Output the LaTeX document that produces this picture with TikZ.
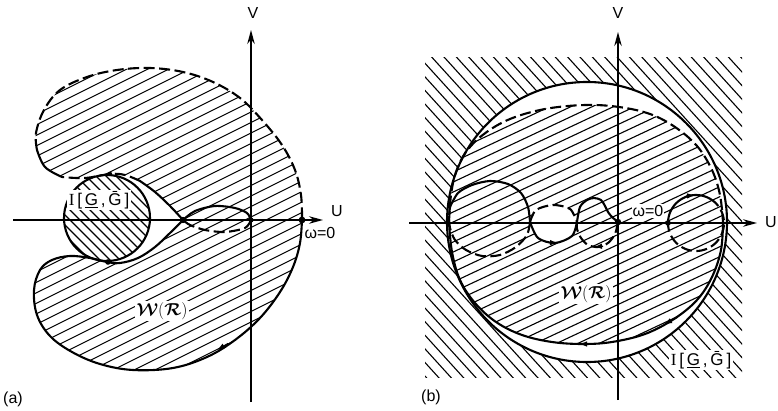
\documentclass[tikz,border=0pt]{standalone}
\usepackage{fontspec}
\setmainfont{Liberation Sans}
\newfontfamily\serifI{Liberation Serif}
\usepackage{bm}
\usetikzlibrary{arrows.meta}
\newcommand{\IGG}{{\serifI I}\,[\,\underline{G}\,,\,\={G}\,]}
\begin{document}
\begin{tikzpicture}[x=1pt,y=-1pt,
  bd/.style={line width=2.1pt, line join=round, line cap=round},
  dsh/.style={line width=2.1pt, line join=round, dash pattern=on 11pt off 4.5pt},
  ax/.style={line width=1.3pt, -{Stealth[length=14pt,width=7.5pt]}},
  hat/.style={line width=1.1pt},
  arr/.style={line width=1.2pt, -{Latex[length=8pt,width=5.5pt]}},
  lbl/.style={inner sep=1pt, font=\fontsize{16}{18}\selectfont},
  big/.style={inner sep=1.5pt, fill=white, font=\fontsize{17}{19}\selectfont},
  cal/.style={inner sep=1.5pt, fill=white, font=\fontsize{19}{21}\selectfont},
]
\useasboundingbox (0,0) rectangle (778,411);

%%%%%%%%%%%%%%%% panel (a)
\begin{scope}
 \clip plot[smooth,tension=0.6] coordinates {(183,220) (170,206) (155,192) (140,181) (125,175) (110,174) (85,178) (62,177) (45,167) (37,150) (36,133) (44,110) (60,90) (87,77) (117,70) (150,68) (183,72) (213,82) (240,98) (262,120) (282,145) (295,170) (301,195) (302,219) (300,243) (293,267) (280,292) (260,318) (235,340) (207,357) (173,368) (133,370) (100,364) (72,352) (50,336) (37,315) (34,290) (40,270) (52,260) (70,256) (90,258) (107,262) (120,263) (138,258) (155,247) (170,233) (183,220)} -- cycle;
 \foreach \c in {80,90.5,...,545} \draw[hat] (0,\c) -- (420,\c-210);
\end{scope}
\begin{scope}
 \clip (107,218) circle[radius=43];
 \foreach \c in {40,50,...,190} \draw[hat] (0,\c) -- (300,\c+300);
\end{scope}
\draw[bd] (107,218) circle[radius=43];

\draw[bd] plot[smooth,tension=0.6] coordinates {(183,220) (170,206) (155,192) (140,181)};
\draw[dsh] plot[smooth,tension=0.6] coordinates {(140,181) (125,175) (110,174) (85,178) (62,177)};
\draw[bd] plot[smooth,tension=0.6] coordinates {(62,177) (45,167) (37,150)};
\draw[dsh] plot[smooth,tension=0.6] coordinates {(37,150) (36,133) (44,110) (60,90) (87,77) (117,70) (150,68) (183,72) (213,82) (240,98) (262,120) (282,145) (295,170) (301,195) (302,219)};
\draw[bd] plot[smooth,tension=0.6] coordinates {(302,219) (300,243) (293,267) (280,292) (260,318) (235,340) (207,357) (173,368) (133,370) (100,364) (72,352) (50,336) (37,315) (34,290) (40,270) (52,260) (70,256) (90,258) (107,262) (120,263) (138,258) (155,247) (170,233) (183,220)};

\draw[bd] plot[smooth] coordinates {(183,220) (195,211) (215,206) (235,208) (247,213) (251,220)};
\draw[dsh] plot[smooth] coordinates {(251,220) (245,228) (225,232) (205,230) (190,225) (183,220)};

\draw[ax] (251,402) -- (251,30);
\draw[ax] (13,220) -- (323,220);

\fill (302,220) circle[radius=3.4];
\fill (183,220) circle[radius=3.2];
\fill (251,220) circle[radius=2.6];
\fill (108,262) circle[radius=2.8];
\fill (110,174) circle[radius=2.2];
\draw[arr] (228,343.5) -- (217,350);

\node[lbl] (Va) at (253,13) {V};
\node[lbl] (Ua) at (337,211) {U};
\node[lbl] (wa) at (320,233) {ω=0};
\node[big] (Ia) at (99,200) {\IGG};
\node[cal] (Wa) at (162,311) {$\bm{\mathcal{W}}(\bm{\mathcal{R}})$};
\node[lbl] (pa) at (13,399) {(a)};

%%%%%%%%%%%%%%%% panel (b)
\begin{scope}
 \clip (425,58) rectangle (742,377);
 \foreach \c in {-785,-771.4,...,-70} \draw[hat] (400,\c+440) -- (760,\c+836);
\end{scope}
\fill[white] (587,222) circle[radius=140];
\draw[bd] (587,222) circle[radius=140];

\begin{scope}
 \clip plot[smooth cycle,tension=0.6] coordinates {(449,222) (451,195) (456,172) (466,152) (484,134) (510,119) (545,109) (585,105) (619,107) (650,114) (675,127) (697,146) (712,170) (720,195) (723,222) (721,250) (712,277) (697,300) (674,319) (645,334) (612,342) (583,344) (552,342) (522,335) (496,322) (475,303) (460,280) (452,252)};
 \foreach \c in {305,315,...,705} \draw[hat] (400,\c-188) -- (760,\c-357.2);
\end{scope}
\fill[white] plot[smooth cycle] coordinates {(530,222) (536,210) (553,205) (570,209) (577,222) (572,236) (555,243) (538,238)};

\draw[dsh] plot[smooth,tension=0.6] coordinates {(449,222) (451,195) (456,172) (466,152) (484,134) (510,119) (545,109) (585,105) (619,107) (650,114) (675,127) (697,146) (712,170) (720,195) (723,222)};
\draw[bd] plot[smooth,tension=0.6] coordinates {(723,222) (721,250) (712,277) (697,300) (674,319) (645,334) (612,342) (583,344) (552,342) (522,335) (496,322) (475,303) (460,280) (452,252) (449,222)};

% left loop
\draw[bd] plot[smooth] coordinates {(450,207) (458,193) (472,185) (490,181) (508,184) (521,193) (528,207) (530,222)};
\draw[dsh] plot[smooth] coordinates {(530,222) (527,235) (516,247) (500,255) (482,256) (466,250) (455,240) (450,228) (449,218) (450,207)};
% middle loop
\draw[dsh] plot[smooth] coordinates {(530,222) (536,210) (553,205) (570,209) (577,222)};
\draw[bd] plot[smooth] coordinates {(577,222) (572,236) (555,243) (538,238) (530,222)};
% wiggly loop
\draw[bd] plot[smooth] coordinates {(577,222) (580,207) (587,200) (594,198) (601,200) (605,206) (608,212) (612,217) (618,222)};
\draw[dsh] plot[smooth] coordinates {(618,222) (615,234) (608,243) (598,247) (588,245) (581,238) (577,229) (577,222)};
% right loop
\draw[bd] plot[domain=180:300,samples=30] ({696+28*cos(\x)},{223+28*sin(\x)});
\draw[dsh] plot[domain=300:540,samples=60] ({696+28*cos(\x)},{223+28*sin(\x)});

\draw[ax] (618,400) -- (618,32);
\draw[ax] (409,223) -- (757,223);

\fill (618,222) circle[radius=3.2];
\fill (668,223) circle[radius=2.8];
\draw[arr] (590,344) -- (579,344);
\draw[arr] (677,317.5) -- (664,324.5);
\draw[arr] (686,196) -- (695,195.2);
\draw[arr] (549,242.6) -- (558,242.8);
\draw[arr] (603,246.2) -- (594,247);

\node[lbl] (Vb) at (618,13) {V};
\node[lbl] (Ub) at (771,222) {U};
\node[lbl,fill=white] (wb) at (648,211) {ω=0};
\node[cal] (Wb) at (586,294) {$\bm{\mathcal{W}}(\bm{\mathcal{R}})$};
\node[big] (Ib) at (701,360) {\IGG};
\node[lbl] (pb) at (431,397) {(b)};
\end{tikzpicture}
\end{document}
